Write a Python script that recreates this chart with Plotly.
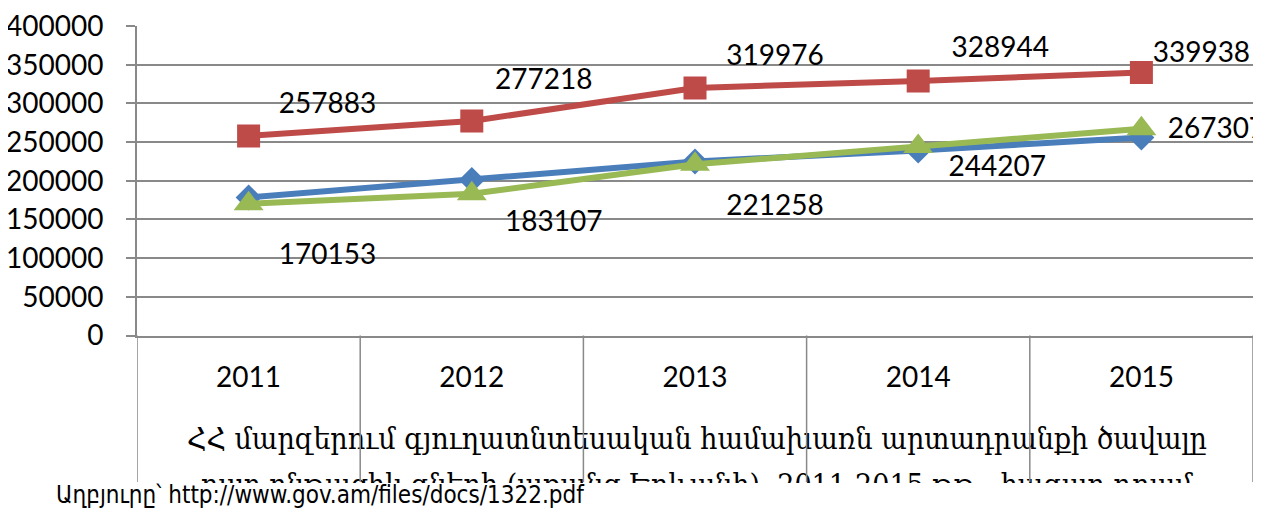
import plotly.graph_objects as go

# ---- data ----
years = ["2011", "2012", "2013", "2014", "2015"]
series_blue = [178500, 201000, 225000, 239000, 256000]
series_red = [257883, 277218, 319976, 328944, 339938]
series_green = [170153, 183107, 221258, 244207, 267307]
y_ticks = [0, 50000, 100000, 150000, 200000, 250000, 300000, 350000, 400000]
title_line1 = "ՀՀ մարզերում գյուղատնտեսական համախառն արտադրանքի ծավալը"
title_line2 = "ըստ ընթացիկ գների (առանց Երևանի), 2011-2015 թթ., հազար դրամ"
source_text = "Աղբյուրը՝ http://www.gov.am/files/docs/1322.pdf"

# label offsets in pixels (right, up)
red_off = [(79, 30), (72, 39), (80, 30), (82, 31), (60, 17)]
green_off = [(79, -53), (82, -30), (80, -44), (79, -22), (75, -2)]

# the page places the figure at (8, 8); layout below is in window pixels
PAGE_OFF = 8
WIN_W, WIN_H = 1273, 510
W, H = WIN_W - PAGE_OFF, WIN_H - PAGE_OFF
ML, MR, MT, MB = 137 - PAGE_OFF, 20, 26 - PAGE_OFF, 0
plot_w = W - ML - MR
plot_h = H - MT - MB
y_zero_ref = 335.5
y_top_ref = 26
px_per_cat = plot_w / len(years)
px_per_val = (y_zero_ref - y_top_ref) / 400000.0

def frac(win_y):
    return (WIN_H - win_y) / plot_h

def xfrac(win_x):
    return (win_x - 137) / plot_w

main_bottom = frac(y_zero_ref)
title_bottom = frac(483)
title_span = 483 - y_zero_ref

GRID = "#898989"
BLUE = "#4A7EBB"
RED = "#BE4B48"
GREEN = "#98B954"
FONT = "Lato"
FS = 28

xs = list(range(len(years)))
fig = go.Figure()
fig.add_trace(go.Scatter(x=xs, y=series_blue, mode="lines+markers",
                         line=dict(color=BLUE, width=6),
                         marker=dict(symbol="diamond", size=20, color=BLUE)))
fig.add_trace(go.Scatter(x=xs, y=series_red, mode="lines+markers",
                         line=dict(color=RED, width=6),
                         marker=dict(symbol="square", size=23, color=RED)))
fig.add_trace(go.Scatter(x=xs, y=series_green, mode="lines+markers",
                         line=dict(color=GREEN, width=6),
                         marker=dict(symbol="triangle-up", size=26, color=GREEN)))

for vals, offs in ((series_red, red_off), (series_green, green_off)):
    fig.add_trace(go.Scatter(
        x=[i + o[0] / px_per_cat for i, o in zip(xs, offs)],
        y=[v + o[1] / px_per_val for v, o in zip(vals, offs)],
        mode="text", text=[str(v) for v in vals],
        textposition="middle center", cliponaxis=True,
        textfont=dict(family=FONT, size=FS, color="#000000"),
        hoverinfo="skip"))

# title as clipped text inside its own subplot
fig.add_trace(go.Scatter(
    x=[xfrac(697), xfrac(697)], y=[(483 - 441) / title_span, (483 - 487) / title_span],
    mode="text", text=[title_line1, title_line2], cliponaxis=True,
    textposition="middle center",
    textfont=dict(family="DejaVu Serif Condensed, DejaVu Serif", size=30, color="#000000"),
    xaxis="x3", yaxis="y3", hoverinfo="skip"))

shapes = []
for k in range(len(years) + 1):
    shapes.append(dict(type="line", xref="x", yref="paper",
                       x0=k - 0.5, x1=k - 0.5, y0=main_bottom, y1=frac(482),
                       line=dict(color=GRID, width=1.5)))

fig.update_layout(
    width=W, height=H,
    margin=dict(l=ML, r=MR, t=MT, b=MB, autoexpand=False),
    paper_bgcolor="white", plot_bgcolor="white",
    showlegend=False,
    shapes=shapes,
    xaxis=dict(domain=[0, 1], range=[-0.5, len(years) - 0.5],
               tickvals=xs, ticktext=years, ticks="",
               showgrid=False, zeroline=False,
               showline=True, linecolor=GRID, linewidth=2,
               tickfont=dict(family=FONT, size=FS, color="#000000"),
               ticklabelstandoff=16, anchor="y", automargin=False),
    yaxis=dict(domain=[main_bottom, 1], range=[0, 400000],
               tickvals=y_ticks, tickformat="d",
               showgrid=True, gridcolor=GRID, gridwidth=1.5,
               zeroline=False, showline=True, linecolor=GRID, linewidth=2,
               ticks="outside", ticklen=9, tickcolor=GRID, tickwidth=1.5,
               tickfont=dict(family=FONT, size=FS, color="#000000"),
               ticklabelstandoff=17, ticklabeloverflow="allow",
               anchor="x", automargin=False),
    xaxis3=dict(domain=[0, 1], range=[0, 1], visible=False, anchor="y3"),
    yaxis3=dict(domain=[title_bottom, main_bottom], range=[0, 1], visible=False, anchor="x3"),
    annotations=[dict(text=source_text, xref="paper", yref="paper",
                      x=xfrac(54), y=frac(495), xanchor="left", yanchor="middle",
                      showarrow=False,
                      font=dict(family="Liberation Sans Narrow, DejaVu Sans Condensed", size=24, color="#000000"))],
)

fig.write_html("out.html")
